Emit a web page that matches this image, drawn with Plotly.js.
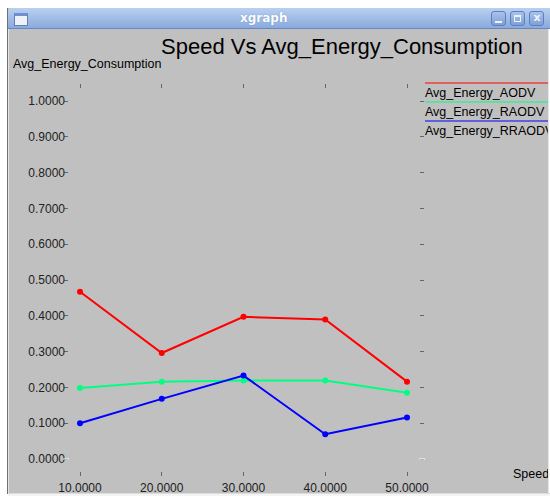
<!DOCTYPE html>
<html>
<head>
<meta charset="utf-8">
<script src="https://cdn.plot.ly/plotly-3.0.1.min.js"></script>
<style>
  html, body { margin:0; padding:0; background:#ffffff; }
  body { width:550px; height:496px; overflow:hidden; position:relative; }
  #win { position:absolute; left:7px; top:8px; width:541px; height:486px; background:#c0c0c0;
         border-left:1px solid #707070; box-sizing:border-box; }
  #winInner { position:absolute; left:8px; top:29px; width:1px; height:465px; background:#e4e4e4; }
  #titlebar { position:absolute; left:8px; top:8px; width:542px; height:21px;
              background:linear-gradient(#b9d0f0, #8aaadd); border-bottom:1px solid #6688c4;
              border-top-left-radius:4px; box-sizing:border-box;
              font-family:"DejaVu Sans", sans-serif; font-weight:bold; font-size:12px; color:#ffffff;
              text-align:center; line-height:20px; text-shadow:0 0 1px #5a7cb8; }
  #titletext { position:absolute; left:232px; top:0; }
  .icon { position:absolute; left:14px; top:13px; width:12px; height:9px; background:#eef2f6;
          border:1px solid #5f80bb; border-top:3px solid #6f90cc; }
  .btn { position:absolute; top:11px; width:15px; height:15px; border:1px solid #5b7fc0; border-radius:3px;
         background:linear-gradient(#a9c3ea, #7f9fd6); box-sizing:border-box; }
  .sym { position:absolute; box-sizing:border-box; }
  #plot { position:absolute; left:0; top:0; width:550px; height:496px; }
  #rEdge { position:absolute; left:548px; top:29px; width:2px; height:467px; background:#ffffff;
           border-left:1px solid #e6e6e6; box-sizing:border-box; z-index:5; }
  #bEdge { position:absolute; left:8px; top:493px; width:542px; height:3px; background:#f4f4f4;
           border-top:1px solid #dcdcdc; box-sizing:border-box; z-index:5; }
</style>
</head>
<body>
<div id="win"></div>
<div id="winInner"></div>
<div id="titlebar"><span id="titletext">xgraph</span></div>
<div class="icon"></div>
<div class="btn" style="left:491px"><div class="sym" style="left:3px;top:9px;width:7px;height:2px;background:#eef3fb"></div></div>
<div class="btn" style="left:510px"><div class="sym" style="left:3px;top:3px;width:7px;height:7px;border:1px solid #eef3fb;border-top-width:2px"></div></div>
<div class="btn" style="left:529px"><div class="sym" style="left:1px;top:-2px;width:12px;height:14px;color:#eef3fb;font:bold 11px 'DejaVu Sans',sans-serif;text-align:center;line-height:16px">x</div></div>
<div id="plot"></div>
<div id="rEdge"></div>
<div id="bEdge"></div>
<script>
// ---- data ----
const speed = [10, 20, 30, 40, 50];
const seriesNames = ["Avg_Energy_AODV", "Avg_Energy_RAODV", "Avg_Energy_RRAODV"];
const aodv   = [0.467, 0.296, 0.397, 0.390, 0.216];
const raodv  = [0.198, 0.216, 0.219, 0.219, 0.185];
const rraodv = [0.100, 0.168, 0.233, 0.069, 0.116];
const yTicks = [0, 0.1, 0.2, 0.3, 0.4, 0.5, 0.6, 0.7, 0.8, 0.9, 1.0];
const chartTitle = "Speed Vs Avg_Energy_Consumption";
const yTitle = "Avg_Energy_Consumption";
const xTitle = "Speed";

// ---- styling ----
const colors = ["#ff0000", "#00ff80", "#0000ff"];
const values = [aodv, raodv, rraodv];
const L = 64, T = 84, W = 360, H = 392;
const xp = px => (px - L) / W;
const yp = py => (T + H - py) / H;
const font = "Liberation Sans, Arial, sans-serif";

const traces = values.map((v, i) => ({
  x: speed, y: v, name: seriesNames[i], type: "scatter", mode: "lines+markers",
  line: { color: colors[i], width: 2 },
  marker: { color: colors[i], size: 6 },
  showlegend: false, cliponaxis: false
}));

const annotations = [
  { text: chartTitle, xref: "paper", yref: "paper", x: xp(159), y: yp(47), xanchor: "left", yanchor: "middle",
    showarrow: false, font: { family: font, size: 22, color: "#000" } },
  { text: yTitle, xref: "paper", yref: "paper", x: xp(11), y: yp(64), xanchor: "left", yanchor: "middle",
    showarrow: false, font: { family: font, size: 12.5, color: "#000" } },
  { text: xTitle, xref: "paper", yref: "paper", x: xp(511), y: yp(474), xanchor: "left", yanchor: "middle",
    showarrow: false, font: { family: font, size: 12.5, color: "#000" } }
];
const shapes = [];
const legTop = [83, 102, 121];
seriesNames.forEach((n, i) => {
  shapes.push({ type: "line", xref: "paper", yref: "paper", x0: xp(425), x1: xp(548),
    y0: yp(legTop[i]), y1: yp(legTop[i]), line: { color: colors[i], width: 1 } });
  annotations.push({ text: n, xref: "paper", yref: "paper", x: xp(423), y: yp(legTop[i] + 1),
    xanchor: "left", yanchor: "top", showarrow: false, font: { family: font, size: 12.5, color: "#000" } });
});
// white zero-line tick marks
shapes.push({ type: "line", xref: "paper", yref: "y", x0: xp(63), x1: xp(69), y0: 0, y1: 0, line: { color: "#ffffff", width: 1 } });
shapes.push({ type: "line", xref: "paper", yref: "y", x0: xp(419), x1: xp(425), y0: 0, y1: 0, line: { color: "#ffffff", width: 1 } });

const layout = {
  width: 550, height: 496,
  margin: { l: L, r: 550 - L - W, t: T, b: 496 - T - H, pad: 0 },
  paper_bgcolor: "rgba(0,0,0,0)", plot_bgcolor: "rgba(0,0,0,0)",
  font: { family: font, size: 12, color: "#222" },
  xaxis: {
    range: [8.043, 52.08], tickvals: speed, tickformat: ".4f",
    ticks: "inside", ticklen: 4, tickwidth: 1, tickcolor: "#666", mirror: "ticks",
    showgrid: false, zeroline: false, showline: false, ticklabelstandoff: 3,
    tickfont: { family: font, size: 12, color: "#222" }
  },
  yaxis: {
    range: [-0.0475, 1.0475], tickvals: yTicks, tickformat: ".4f",
    ticks: "inside", ticklen: 4, tickwidth: 1, tickcolor: "#666", mirror: "ticks",
    showgrid: false, zeroline: false, showline: false, ticklabelstandoff: -2,
    tickfont: { family: font, size: 12, color: "#222" }
  },
  annotations: annotations, shapes: shapes, showlegend: false
};
Plotly.newPlot("plot", traces, layout, { displayModeBar: false, staticPlot: true });
</script>
</body>
</html>
